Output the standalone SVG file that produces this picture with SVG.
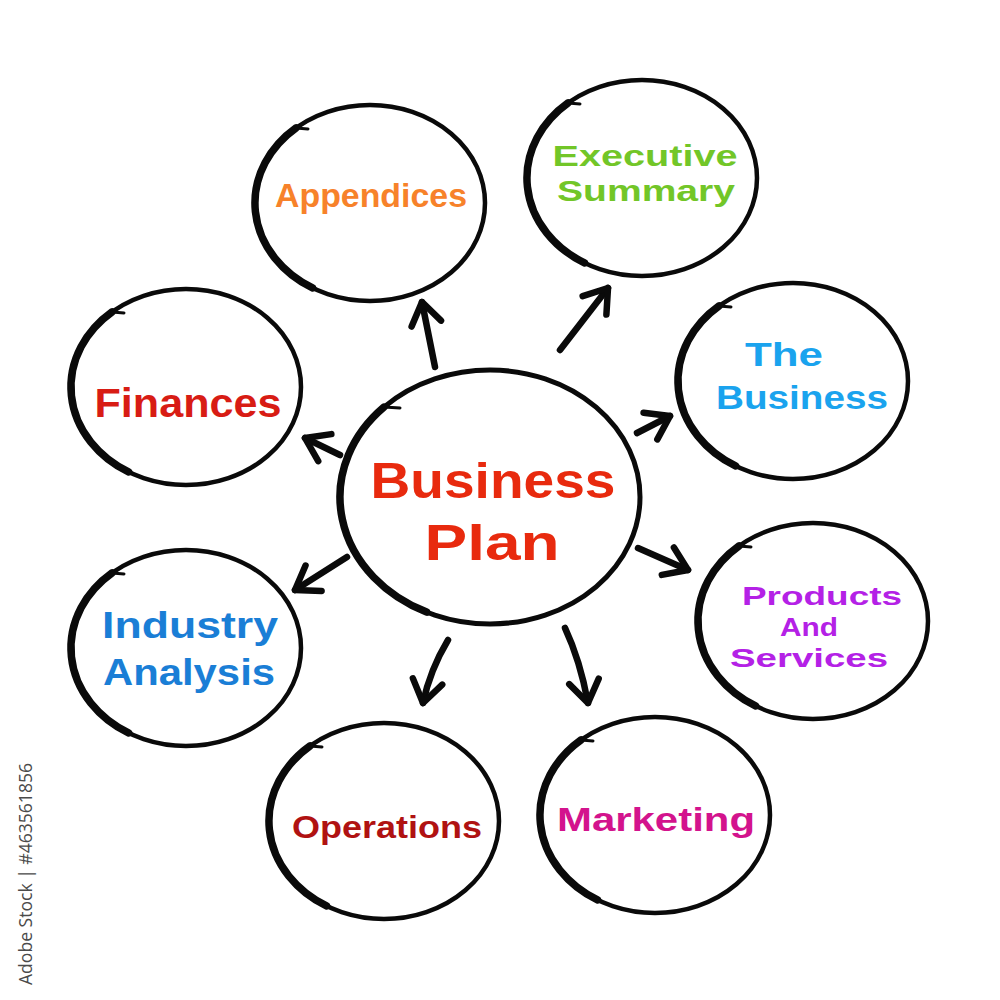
<svg xmlns="http://www.w3.org/2000/svg" width="1000" height="1000" viewBox="0 0 1000 1000" xmlns:xlink="http://www.w3.org/1999/xlink">
<style>
.ring{fill:none;stroke:#0a0a0a;stroke-width:4.5}
.thick{fill:none;stroke:#0a0a0a;stroke-width:7.5;stroke-linecap:round}
.tick{fill:none;stroke:#0a0a0a;stroke-width:3;stroke-linecap:round}
.lbl{font-family:"Liberation Sans","Open Sans",sans-serif;font-weight:bold;text-anchor:middle}
.arr{fill:none;stroke:#0a0a0a;stroke-width:6.5;stroke-linecap:round;stroke-linejoin:round}
.stock{font-family:"Open Sans","Liberation Sans",sans-serif;font-size:19px;fill:#4a4a4a}
</style>
<defs>
<g id="sat">
<ellipse class="ring" cx="0" cy="0" rx="115" ry="98"/>
<path class="thick" d="M -73.9,-75.1 A 115 98 0 0 0 -57.5,84.9"/>
<path class="tick" d="M -82,-68 L -68,-79 M -74,-75 L -62,-74"/>
</g>
<marker id="ah" markerUnits="userSpaceOnUse" markerWidth="40" markerHeight="40" refX="0" refY="0" viewBox="-30 -20 40 40" orient="auto">
<path d="M -22,-15 L 0,0 L -22,15" fill="none" stroke="#0a0a0a" stroke-width="6.5" stroke-linecap="round" stroke-linejoin="round"/>
</marker>
</defs>
<rect width="1000" height="1000" fill="#ffffff"/>

<g id="connectors">
<path class="arr" d="M 435,367 L 422,302" marker-end="url(#ah)"/>
<path class="arr" d="M 560,350 L 608,288" marker-end="url(#ah)"/>
<path class="arr" d="M 637,433 L 670,416" marker-end="url(#ah)"/>
<path class="arr" d="M 638,548 L 688,570" marker-end="url(#ah)"/>
<path class="arr" d="M 565,628 Q 580,660 588,703" marker-end="url(#ah)"/>
<path class="arr" d="M 448,640 Q 430,670 423,703" marker-end="url(#ah)"/>
<path class="arr" d="M 347,557 L 295,590" marker-end="url(#ah)"/>
<path class="arr" d="M 340,455 L 305,438" marker-end="url(#ah)"/>
</g>

<g id="center">
<ellipse class="ring" cx="490" cy="497" rx="150" ry="127" style="stroke-width:5"/>
<path class="thick" d="M 383.9,407.2 A 150 127 0 0 0 426.6,612.1"/>
<path class="tick" d="M 374,416 L 392,401 M 384,407 L 400,408"/>
<text class="lbl" x="493" y="498" font-size="50" fill="#e82a0e" textLength="245" lengthAdjust="spacingAndGlyphs">Business</text>
<text class="lbl" x="492" y="560" font-size="50" fill="#e82a0e" textLength="135" lengthAdjust="spacingAndGlyphs">Plan</text>
</g>

<g id="appendices">
<use xlink:href="#sat" x="370" y="203"/>
<text class="lbl" x="371" y="207" font-size="34" fill="#f7822a" textLength="192" lengthAdjust="spacingAndGlyphs">Appendices</text>
</g>

<g id="executive-summary">
<use xlink:href="#sat" x="642" y="178"/>
<text class="lbl" x="645" y="166" font-size="29" fill="#72c628" textLength="185" lengthAdjust="spacingAndGlyphs">Executive</text>
<text class="lbl" x="646" y="201" font-size="29" fill="#72c628" textLength="178" lengthAdjust="spacingAndGlyphs">Summary</text>
</g>

<g id="the-business">
<use xlink:href="#sat" x="793" y="381"/>
<text class="lbl" x="784" y="366" font-size="34" fill="#1aa3ee" textLength="78" lengthAdjust="spacingAndGlyphs">The</text>
<text class="lbl" x="802" y="409" font-size="34" fill="#1aa3ee" textLength="172" lengthAdjust="spacingAndGlyphs">Business</text>
</g>

<g id="products-and-services">
<use xlink:href="#sat" x="813" y="621"/>
<text class="lbl" x="822" y="605" font-size="25" fill="#b421e6" textLength="160" lengthAdjust="spacingAndGlyphs">Products</text>
<text class="lbl" x="809" y="636" font-size="25" fill="#b421e6" textLength="58" lengthAdjust="spacingAndGlyphs">And</text>
<text class="lbl" x="809" y="667" font-size="25" fill="#b421e6" textLength="158" lengthAdjust="spacingAndGlyphs">Services</text>
</g>

<g id="marketing">
<use xlink:href="#sat" x="655" y="815"/>
<text class="lbl" x="656" y="831" font-size="34" fill="#d3138d" textLength="198" lengthAdjust="spacingAndGlyphs">Marketing</text>
</g>

<g id="operations">
<use xlink:href="#sat" x="384" y="821"/>
<text class="lbl" x="387" y="838" font-size="31" fill="#b01212" textLength="190" lengthAdjust="spacingAndGlyphs">Operations</text>
</g>

<g id="industry-analysis">
<use xlink:href="#sat" x="186" y="648"/>
<text class="lbl" x="190" y="638" font-size="36" fill="#1a7ed6" textLength="176" lengthAdjust="spacingAndGlyphs">Industry</text>
<text class="lbl" x="189" y="685" font-size="36" fill="#1a7ed6" textLength="172" lengthAdjust="spacingAndGlyphs">Analysis</text>
</g>

<g id="finances">
<use xlink:href="#sat" x="186" y="387"/>
<text class="lbl" x="188" y="417" font-size="40" fill="#d81c14" textLength="187" lengthAdjust="spacingAndGlyphs">Finances</text>
</g>

<text class="stock" transform="translate(32,985) rotate(-90)" textLength="222" lengthAdjust="spacingAndGlyphs">Adobe Stock | #463561856</text>
</svg>
